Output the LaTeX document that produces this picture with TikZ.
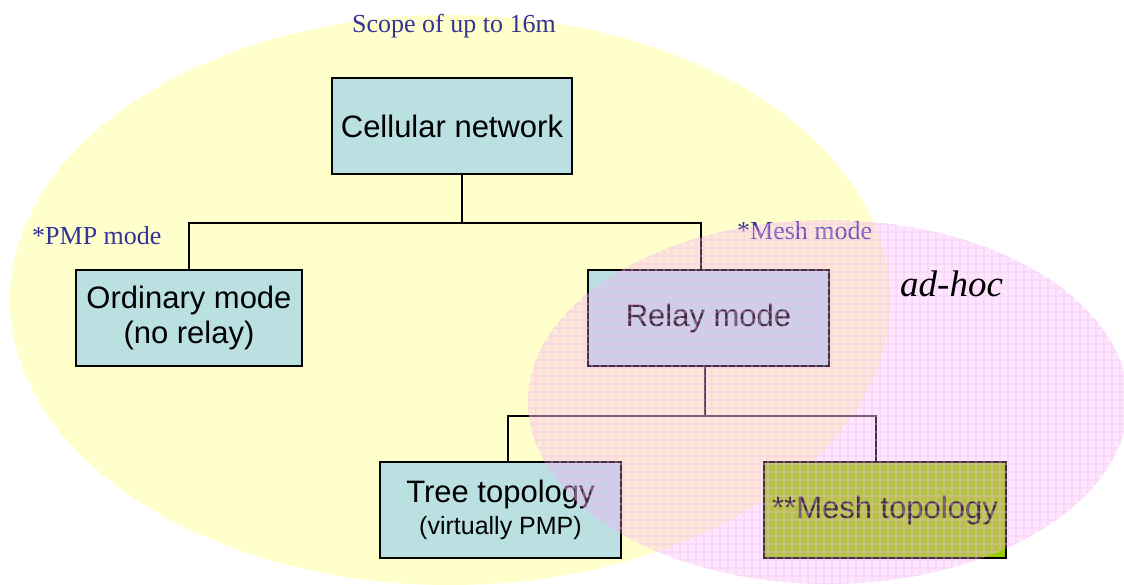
\documentclass[tikz,border=0pt]{standalone}
\usepackage{fontspec}
\setmainfont{Liberation Serif}
\setsansfont{Liberation Sans}
\definecolor{boxblue}{RGB}{186,224,226}
\definecolor{meshgreen}{RGB}{153,204,0}
\definecolor{yellowbg}{RGB}{255,255,204}
\definecolor{pinkbg}{RGB}{250,170,250}
\definecolor{gridpink}{RGB}{245,185,240}
\definecolor{textblue}{RGB}{51,51,153}
\tikzset{
  box/.style={draw=black, line width=1.8pt, fill=boxblue, minimum height=96pt, inner sep=0pt,
    align=center, font=\sffamily\fontsize{31}{35}\selectfont},
  conn/.style={draw=black, line width=1.8pt},
  lbl/.style={anchor=base west, inner sep=0pt, text=textblue, font=\rmfamily\fontsize{26}{30}\selectfont}
}
\begin{document}
\begin{tikzpicture}[x=1pt,y=-1pt]
\useasboundingbox (0,0) rectangle (1124,585);
\clip (0,0) rectangle (1124,585);
% yellow scope ellipse
\fill[yellowbg] (450,300) ellipse [x radius=440pt, y radius=285pt];
% boxes
\node[box, minimum width=240pt] (cell) at (452,126) {Cellular network};
\node[box, minimum width=226pt] (ord) at (189,318) {Ordinary mode\\(no relay)};
\node[box, minimum width=241pt] (relay) at (708.5,318) {Relay mode};
\node[box, minimum width=241pt] (tree) at (500.5,510) {Tree topology\\[-3pt]{\fontsize{25}{28}\selectfont(virtually PMP)}};
\node[box, minimum width=242pt, fill=meshgreen] (mesh) at (885,510) {**Mesh topology};
% connectors
\draw[conn] ([xshift=10pt]cell.south) -- ++(0,48) -| (ord.north);
\draw[conn] ([xshift=10pt]cell.south) -- ++(0,48) -| ([xshift=-7.5pt]relay.north);
\draw[conn] ([xshift=-3.5pt]relay.south) -- ++(0,49) -| ([xshift=7.5pt]tree.north);
\draw[conn] ([xshift=-3.5pt]relay.south) -- ++(0,49) -| ([xshift=-9pt]mesh.north);
% labels
\node[lbl] (scope) at (352,33) {Scope of up to 16m};
\node[lbl] (pmp) at (32,245) {*PMP mode};
\node[lbl] (meshmode) at (737,240) {*Mesh mode};
% pink ad-hoc ellipse on top
\fill[pinkbg, opacity=0.28] (828,402) ellipse [x radius=300pt, y radius=182pt];
\begin{scope}
  \clip (828,402) ellipse [x radius=300pt, y radius=182pt];
  \draw[gridpink, opacity=0.32, line width=1.2pt, step=8pt] (520,215) grid (1130,590);
\end{scope}
\node[anchor=base west, inner sep=0pt, font=\rmfamily\itshape\fontsize{37}{40}\selectfont] (adhoc) at (900,297) {ad-hoc};
\end{tikzpicture}
\end{document}
